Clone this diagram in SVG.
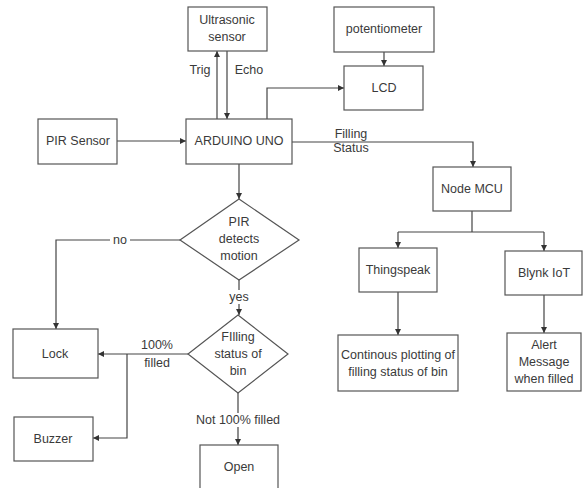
<svg xmlns="http://www.w3.org/2000/svg" width="584" height="488" viewBox="0 0 584 488">
<defs>
<style>
.box{fill:#fff;stroke:#555;stroke-width:1.2}
.t{font-family:"Liberation Sans",Arial,sans-serif;font-size:12.5px;fill:#3a3a3a;text-anchor:middle;dominant-baseline:central}
.c{fill:none;stroke:#444;stroke-width:1.2}
.bg{fill:#fff}
</style>
<marker id="ah" viewBox="0 0 6 6" refX="6" refY="3" markerWidth="6" markerHeight="6" markerUnits="userSpaceOnUse" orient="auto">
<path d="M0,0 L6,3 L0,6 z" fill="#333"/>
</marker>
</defs>
<rect width="584" height="488" fill="#fff"/>
<g id="connectors">
<path class="c" d="M217,119 V51" marker-end="url(#ah)"/>
<path class="c" d="M227,51 V119" marker-end="url(#ah)"/>
<path class="c" d="M117,141 H186" marker-end="url(#ah)"/>
<path class="c" d="M267,119 V88 H344" marker-end="url(#ah)"/>
<path class="c" d="M384,52 V66" marker-end="url(#ah)"/>
<path class="c" d="M292,142 H473 V167" marker-end="url(#ah)"/>
<path class="c" d="M239,164 V199" marker-end="url(#ah)"/>
<path class="c" d="M472,211 V232"/>
<path class="c" d="M398,232 H544"/>
<path class="c" d="M398,232 V248" marker-end="url(#ah)"/>
<path class="c" d="M544,232 V251" marker-end="url(#ah)"/>
<path class="c" d="M398,292 V335" marker-end="url(#ah)"/>
<path class="c" d="M544,295 V333" marker-end="url(#ah)"/>
<path class="c" d="M180,240 H56 V329" marker-end="url(#ah)"/>
<path class="c" d="M239,280 V315" marker-end="url(#ah)"/>
<path class="c" d="M188,354 H98" marker-end="url(#ah)"/>
<path class="c" d="M127,354 V438 H93" marker-end="url(#ah)"/>
<path class="c" d="M238,393 V445" marker-end="url(#ah)"/>
<text class="t" x="200" y="70">Trig</text>
<text class="t" x="249" y="70">Echo</text>
<text class="t" x="351" y="134">Filling</text>
<text class="t" x="351" y="148">Status</text>
<rect class="bg" x="110" y="233" width="20" height="14"/>
<text class="t" x="120" y="240">no</text>
<rect class="bg" x="227" y="290" width="24" height="14"/>
<text class="t" x="239" y="297">yes</text>
<text class="t" x="157" y="345">100%</text>
<text class="t" x="157" y="363">filled</text>
<rect class="bg" x="194" y="413" width="88" height="14"/>
<text class="t" x="238" y="420">Not 100% filled</text>
</g>
<g id="ultrasonic"><rect class="box" x="188" y="7" width="79" height="44"/><text class="t" x="227" y="20">Ultrasonic</text><text class="t" x="227" y="37">sensor</text></g>
<g id="potentiometer"><rect class="box" x="334" y="7" width="100" height="45"/><text class="t" x="384" y="29">potentiometer</text></g>
<g id="lcd"><rect class="box" x="344" y="66" width="79" height="44"/><text class="t" x="384" y="88">LCD</text></g>
<g id="pir"><rect class="box" x="38" y="119" width="79" height="45"/><text class="t" x="78" y="141">PIR Sensor</text></g>
<g id="arduino"><rect class="box" x="186" y="119" width="106" height="45"/><text class="t" x="239" y="141">ARDUINO UNO</text></g>
<g id="nodemcu"><rect class="box" x="433" y="167" width="78" height="44"/><text class="t" x="472" y="189">Node MCU</text></g>
<g id="thingspeak"><rect class="box" x="359" y="248" width="78" height="44"/><text class="t" x="398" y="270">Thingspeak</text></g>
<g id="blynk"><rect class="box" x="505" y="251" width="77" height="44"/><text class="t" x="544" y="273">Blynk IoT</text></g>
<g id="plotting"><rect class="box" x="338" y="335" width="120" height="56"/><text class="t" x="398" y="355">Continous plotting of</text><text class="t" x="398" y="372">filling status of bin</text></g>
<g id="alert"><rect class="box" x="507" y="333" width="74" height="58"/><text class="t" x="544" y="345">Alert</text><text class="t" x="544" y="362">Message</text><text class="t" x="544" y="379">when filled</text></g>
<g id="pirdecision"><path class="box" d="M239,199 L299,240 L239,280 L180,240 Z"/><text class="t" x="239" y="222">PIR</text><text class="t" x="239" y="239">detects</text><text class="t" x="239" y="256">motion</text></g>
<g id="filldecision"><path class="box" d="M238,315 L288,354 L238,393 L188,354 Z"/><text class="t" x="238" y="337">FIlling</text><text class="t" x="238" y="354">status of</text><text class="t" x="238" y="371">bin</text></g>
<g id="lock"><rect class="box" x="13" y="329" width="85" height="49"/><text class="t" x="55" y="354">Lock</text></g>
<g id="buzzer"><rect class="box" x="14" y="417" width="79" height="44"/><text class="t" x="53" y="439">Buzzer</text></g>
<g id="open"><rect class="box" x="200" y="445" width="78" height="50"/><text class="t" x="239" y="467">Open</text></g>
</svg>
